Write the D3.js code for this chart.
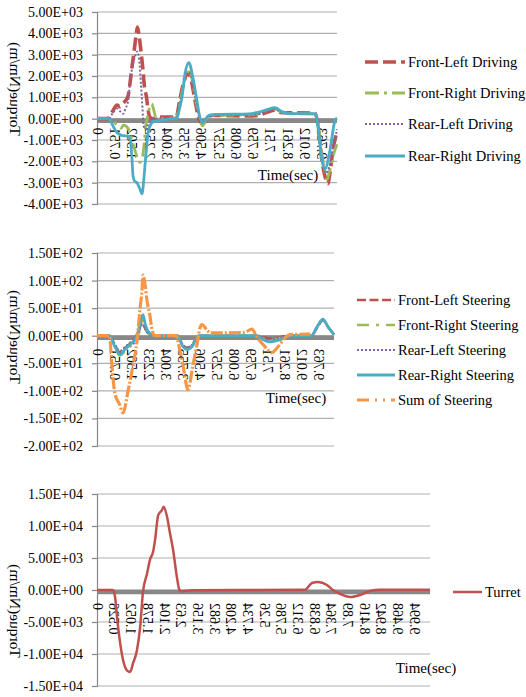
<!DOCTYPE html>
<html>
<head>
<meta charset="utf-8">
<script src="https://d3js.org/d3.v7.min.js"></script>
<style>
  html, body { margin: 0; padding: 0; background: #fff; }
  text { font-family: "Liberation Serif", "Times New Roman", serif; fill: #000; }
</style>
</head>
<body>
<div id="chart"></div>
<script>
// ---- data: [time (s), torque (Nm/m)] ----
const drivingNames = ["Front-Left Driving", "Front-Right Driving", "Rear-Left Driving", "Rear-Right Driving"];
const steeringNames = ["Front-Left Steering", "Front-Right Steering", "Rear-Left Steering", "Rear-Right Steering", "Sum of Steering"];
const turretNames = ["Turret"];

const drivingTicks = ["0", "0.751", "1.502", "2.253", "3.004", "3.755", "4.506", "5.257", "6.008", "6.759", "7.51", "8.261", "9.012", "9.763"];
const turretTicks = ["0", "0.526", "1.052", "1.578", "2.104", "2.63", "3.156", "3.682", "4.208", "4.734", "5.26", "5.786", "6.312", "6.838", "7.364", "7.89", "8.416", "8.942", "9.468", "9.994"];

const frontLeftDriving = [[0,0],[0.45,0],[0.6,200],[0.75,480],[0.87,640],[1.0,560],[1.13,720],[1.25,850],[1.35,1050],[1.44,1690],[1.52,2400],[1.61,3100],[1.7,3900],[1.76,4300],[1.83,3900],[1.9,3300],[2.0,2300],[2.07,1450],[2.15,1050],[2.22,450],[2.3,80],[2.45,0],[2.7,80],[3.45,80],[3.6,850],[3.75,1600],[3.96,2150],[4.1,1800],[4.27,850],[4.45,-50],[4.62,-230],[4.8,60],[5.0,150],[6.6,130],[7.0,150],[7.4,300],[7.75,400],[8.05,280],[8.5,280],[9.5,260],[9.62,-300],[9.8,-2000],[9.95,-2800],[10.05,-3050],[10.15,-2500],[10.27,-1500],[10.45,-600]];
const frontRightDriving = [[0,0],[0.6,0],[0.75,-150],[0.9,-350],[1.05,-450],[1.15,-300],[1.3,-380],[1.45,-700],[1.6,-1300],[1.75,-1800],[1.87,-2050],[1.96,-1900],[2.05,-1200],[2.12,-350],[2.2,100],[2.3,550],[2.38,700],[2.45,500],[2.55,100],[2.7,0],[3.45,50],[3.6,700],[3.8,1700],[4.0,2200],[4.15,1800],[4.3,900],[4.45,100],[4.6,-330],[4.75,0],[4.9,150],[6.6,180],[7.0,220],[7.4,380],[7.75,450],[8.05,300],[8.5,230],[9.5,220],[9.62,-200],[9.8,-1700],[9.95,-2600],[10.02,-2850],[10.12,-2500],[10.27,-1800],[10.45,-1200]];
const rearLeftDriving = [[0,0],[0.5,0],[0.7,280],[0.87,470],[1.0,350],[1.13,230],[1.25,500],[1.35,800],[1.44,1690],[1.55,2500],[1.65,2900],[1.76,3150],[1.85,2600],[1.92,1500],[1.98,500],[2.02,-300],[2.1,-500],[2.2,-350],[2.35,-100],[2.45,0],[3.45,50],[3.6,700],[3.8,1700],[4.0,2150],[4.15,1800],[4.3,900],[4.45,100],[4.6,-200],[4.75,50],[4.9,150],[6.6,180],[7.0,200],[7.4,350],[7.75,450],[8.05,300],[8.5,230],[9.5,220],[9.62,-250],[9.8,-1800],[9.95,-2550],[10.1,-2300],[10.27,-1400],[10.45,-500]];
const rearRightDriving = [[0,0],[0.5,0],[0.57,-50],[0.7,-350],[0.87,-650],[1.0,-750],[1.13,-800],[1.35,-820],[1.45,-1000],[1.52,-1830],[1.57,-2700],[1.65,-2950],[1.74,-3000],[1.85,-3250],[1.96,-3520],[2.05,-2700],[2.12,-1800],[2.22,-700],[2.35,-250],[2.5,-120],[2.7,-100],[3.1,-20],[3.48,20],[3.6,500],[3.7,1000],[3.83,2100],[4.0,2630],[4.18,1900],[4.35,850],[4.48,60],[4.61,-180],[4.75,0],[4.9,170],[5.2,200],[6.62,220],[7.01,300],[7.4,420],[7.75,520],[8.05,330],[8.4,240],[9.53,230],[9.62,-400],[9.8,-2000],[9.93,-2350],[10.14,-1500],[10.36,-100],[10.45,30]];

const frontLeftSteering = [[0,0],[0.55,0],[0.8,-18],[1.0,-30],[1.25,-22],[1.5,-12],[1.7,-2],[1.85,10],[2.0,25],[2.1,15],[2.3,3],[2.5,0],[3.55,0],[3.8,-18],[3.97,-22],[4.2,-17],[4.45,0],[7.05,0],[7.3,-2],[7.6,-5],[8.0,-3],[8.4,0],[9.45,0],[9.7,14],[9.96,28],[10.2,15],[10.45,2]];
const frontRightSteering = [[0,0],[0.55,0],[0.8,-22],[1.0,-36],[1.2,-30],[1.45,-20],[1.7,-8],[1.85,5],[2.0,28],[2.1,18],[2.3,3],[2.5,0],[3.55,0],[3.8,-19],[3.97,-24],[4.2,-18],[4.45,0],[7.05,0],[7.6,-9],[8.0,-5],[8.4,0],[9.45,0],[9.7,15],[9.96,29],[10.2,15],[10.45,2]];
const rearLeftSteering = [[0,0],[0.55,0],[0.8,-16],[1.0,-28],[1.25,-20],[1.5,-12],[1.62,-14],[1.72,-4],[1.85,8],[2.0,22],[2.1,14],[2.3,2],[2.5,0],[3.55,0],[3.8,-17],[3.97,-21],[4.2,-16],[4.45,0],[7.05,0],[7.6,-7],[8.0,-4],[8.4,0],[9.45,0],[9.7,14],[9.96,28],[10.2,15],[10.45,2]];
const rearRightSteering = [[0,0],[0.55,0],[0.79,-20],[1.01,-34],[1.23,-25],[1.46,-16],[1.68,-6],[1.81,7],[1.95,30],[2.03,38],[2.12,22],[2.2,12],[2.34,4],[2.5,0],[3.5,0],[3.6,-4],[3.79,-20],[3.97,-25],[4.19,-20],[4.41,-4],[4.5,0],[7.0,0],[7.19,-4],[7.6,-11],[8.07,-7],[8.38,-2],[8.5,0],[9.45,0],[9.7,16],[9.96,30],[10.19,16],[10.45,2]];
const sumOfSteering = [[0,0],[0.55,0],[0.65,-50],[0.79,-105],[1.0,-125],[1.15,-140],[1.37,-100],[1.59,-53],[1.76,-11],[1.9,50],[1.98,80],[2.03,110],[2.12,92],[2.2,65],[2.34,35],[2.43,10],[2.56,0],[3.5,0],[3.57,-11],[3.79,-53],[3.97,-94],[4.01,-98],[4.23,-53],[4.41,-16],[4.54,14],[4.63,20],[4.85,10],[5.0,5],[6.5,6],[6.83,12],[7.05,-2],[7.32,-16],[7.72,-30],[7.98,-20],[8.29,-4],[8.51,2],[9.4,3]];

const turret = [[0,0],[0.5,0],[0.57,-1100],[0.63,-4200],[0.73,-8300],[0.82,-10900],[0.95,-12600],[1.04,-12800],[1.14,-11400],[1.26,-9400],[1.36,-5800],[1.45,-300],[1.58,2600],[1.67,4700],[1.77,6000],[1.83,7800],[1.93,11700],[2.05,12500],[2.1,13000],[2.21,11400],[2.3,8900],[2.4,6250],[2.52,2000],[2.6,0],[2.68,-200],[3.0,-50],[6.56,50],[6.78,1100],[6.97,1250],[7.25,780],[7.44,0],[7.66,-600],[7.98,-1100],[8.29,-780],[8.61,-150],[8.92,50],[10.5,50]];

// ---- line styles (Excel palette) ----
const drivingStyles = [
  { color: "#C0504D", width: 3.6, dash: "13,5" },
  { color: "#9BBB59", width: 2.8, dash: "14,5,3,5" },
  { color: "#8064A2", width: 2, dash: "2,2" },
  { color: "#4BACC6", width: 2.8, dash: null }
];
const steeringStyles = [
  { color: "#C0504D", width: 2.5, dash: "9,3.5" },
  { color: "#9BBB59", width: 2.5, dash: "12,7,3,7" },
  { color: "#8064A2", width: 2, dash: "2,2" },
  { color: "#4BACC6", width: 2.8, dash: null },
  { color: "#F79646", width: 3.2, dash: "12,2,2,2" }
];
const legendDash = [null, null, null, null, "12,6,2,6,2,6"];
const turretStyles = [{ color: "#C0504D", width: 2.5, dash: null }];

const width = 526, height = 697;
const svg = d3.select("#chart").append("svg")
  .attr("width", width).attr("height", height);

// Excel style "0.00E+00"
function sci(v) {
  if (v === 0) return "0.00E+00";
  const e = Math.floor(Math.log10(Math.abs(v)));
  const m = v / Math.pow(10, e);
  return m.toFixed(2) + "E" + (e < 0 ? "-" : "+") + String(Math.abs(e)).padStart(2, "0");
}

function drawPanel(p) {
  const x = d3.scaleLinear().domain([0, p.xMax]).range([p.left, p.right]);
  const y = d3.scaleLinear().domain(p.yDomain).range([p.bottom, p.top]);
  const g = svg.append("g");

  // gridlines
  g.selectAll(".grid").data(p.yTicks).enter().append("line")
    .attr("x1", p.left).attr("x2", p.right)
    .attr("y1", d => y(d)).attr("y2", d => y(d))
    .attr("stroke", "#b0b0b0").attr("stroke-width", 1.2);

  // vertical axis
  const yAxis = d3.axisLeft(y).tickValues(p.yTicks).tickFormat(sci).tickSize(5).tickPadding(9);
  const ya = g.append("g").attr("transform", `translate(${p.left},0)`).call(yAxis);
  ya.select(".domain").attr("stroke", "#888").attr("stroke-width", 1.2);
  ya.selectAll(".tick line").attr("stroke", "#888").attr("stroke-width", 1.2);
  ya.selectAll(".tick text").attr("font-size", 14).attr("font-family", "Liberation Serif").attr("fill", "#000");

  // thick horizontal axis at zero
  g.append("line")
    .attr("x1", p.left).attr("x2", p.right)
    .attr("y1", y(0) + 2).attr("y2", y(0) + 2)
    .attr("stroke", "#888").attr("stroke-width", 4.5);

  // rotated category labels (mirrored, as in the source)
  g.selectAll(".xl").data(p.xTicks).enter().append("text")
    .attr("transform", d => `translate(${x(+d)},${y(0) + p.labelOffset}) rotate(-90) scale(1,-1)`)
    .attr("text-anchor", "end").attr("dy", "0.3em")
    .attr("font-size", 14).text(d => d);

  // series
  const line = d3.line().x(d => x(d[0])).y(d => y(d[1])).curve(d3.curveMonotoneX);
  p.series.forEach((s, i) => {
    const st = p.styles[i];
    g.append("path").datum(s)
      .attr("d", line).attr("fill", "none")
      .attr("stroke", st.color).attr("stroke-width", st.width)
      .attr("stroke-dasharray", st.dash)
      .attr("stroke-linejoin", "round");
  });

  // axis titles
  g.append("text")
    .attr("transform", `translate(${p.titleX},${p.titleY}) rotate(-90) scale(1,-1)`)
    .attr("text-anchor", "middle").attr("font-size", 15.5).text("Torque(Nm/m)");
  g.append("text").attr("x", p.timeX).attr("y", p.timeY)
    .attr("text-anchor", "middle").attr("font-size", 15).text("Time(sec)");

  // legend
  p.names.forEach((n, i) => {
    const st = p.styles[i];
    const ly = p.legendY[i];
    g.append("line")
      .attr("x1", p.legendX).attr("x2", p.legendX + p.legendLen)
      .attr("y1", ly).attr("y2", ly)
      .attr("stroke", st.color).attr("stroke-width", st.width)
      .attr("stroke-dasharray", (p.legendDash && p.legendDash[i]) || st.dash);
    g.append("text").attr("x", p.legendX + p.legendLen + 3).attr("y", ly)
      .attr("dy", "0.35em").attr("font-size", 14.5).text(n);
  });
}

drawPanel({
  top: 12, bottom: 204, left: 97, right: 337, xMax: 10.45,
  yDomain: [-4000, 5000], yTicks: d3.range(-4000, 5001, 1000),
  xTicks: drivingTicks, labelOffset: 9,
  series: [frontLeftDriving, frontRightDriving, rearLeftDriving, rearRightDriving],
  styles: drivingStyles, names: drivingNames,
  titleX: 10, titleY: 89, timeX: 288, timeY: 180,
  legendX: 365, legendLen: 40, legendY: [62, 93, 124, 156]
});

drawPanel({
  top: 253, bottom: 446, left: 97, right: 334, xMax: 10.45,
  yDomain: [-200, 150], yTicks: d3.range(-200, 151, 50),
  xTicks: drivingTicks, labelOffset: 13,
  series: [frontLeftSteering, frontRightSteering, rearLeftSteering, rearRightSteering, sumOfSteering],
  styles: steeringStyles, names: steeringNames, legendDash: legendDash,
  titleX: 10, titleY: 337, timeX: 296, timeY: 403,
  legendX: 357, legendLen: 38, legendY: [300, 325, 350, 375, 400]
});

drawPanel({
  top: 494, bottom: 686, left: 97, right: 430, xMax: 10.5,
  yDomain: [-15000, 15000], yTicks: d3.range(-15000, 15001, 5000),
  xTicks: turretTicks, labelOffset: 13,
  series: [turret], styles: turretStyles, names: turretNames,
  titleX: 10, titleY: 611, timeX: 426, timeY: 673,
  legendX: 453, legendLen: 29, legendY: [592]
});
</script>
</body>
</html>
